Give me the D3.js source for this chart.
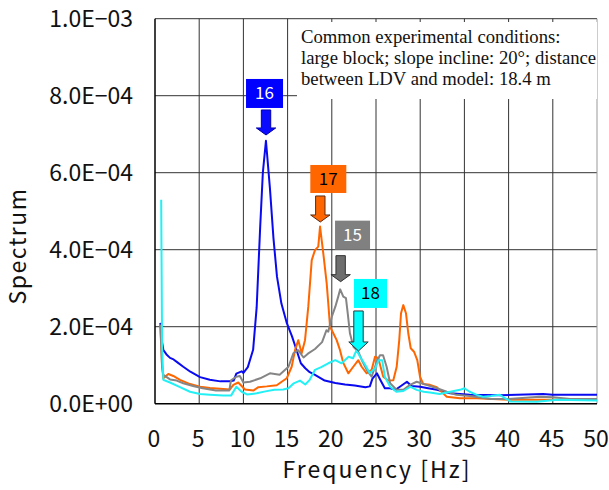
<!DOCTYPE html>
<html>
<head>
<meta charset="utf-8">
<script src="https://cdn.jsdelivr.net/npm/d3@7"></script>
<style>
body { margin: 0; background: #fff; }
svg { display: block; }
.gothic { font-family: "Noto Sans CJK JP", sans-serif; }
.serif { font-family: "Liberation Serif", "Times New Roman", serif; }
</style>
</head>
<body>
<svg id="chart" width="609" height="490"></svg>
<script>
// frequency [Hz] and spectrum (x 1e-4), one pair of arrays per test
var freq16 = [0.6, 0.7, 0.8, 0.95, 1.3, 1.7, 2.1, 2.5, 3.2, 4.0, 5.1, 6.2, 7.4, 8.5, 8.9, 9.2, 9.8, 10.0, 10.5, 11.1, 11.5, 11.9, 12.2, 12.55, 13.0, 13.4, 13.8, 14.3, 14.9, 15.5, 16.0, 16.5, 17.0, 17.5, 18.1, 19.2, 20.4, 21.5, 22.6, 23.8, 24.3, 24.6, 25.1, 25.6, 26.0, 26.6, 27.2, 27.7, 28.5, 29.0, 30.0, 30.9, 31.9, 33.4, 35.6, 39.0, 43.9, 45.0, 50.0];
var spec16 = [2.1, 1.9, 1.6, 1.39, 1.28, 1.19, 1.15, 1.08, 0.96, 0.83, 0.69, 0.62, 0.58, 0.58, 0.6, 0.78, 0.84, 0.80, 0.95, 1.4, 2.5, 4.6, 6.0, 6.83, 5.6, 4.3, 3.3, 2.6, 2.1, 1.75, 1.4, 1.05, 0.92, 0.82, 0.75, 0.6, 0.54, 0.5, 0.47, 0.43, 0.45, 0.65, 0.79, 0.57, 0.40, 0.40, 0.36, 0.44, 0.57, 0.46, 0.44, 0.40, 0.36, 0.27, 0.23, 0.22, 0.25, 0.23, 0.23];

var freq17 = [0.6, 0.7, 0.8, 0.94, 1.5, 2.07, 2.83, 3.96, 5.09, 6.22, 7.35, 8.48, 8.86, 9.42, 10.18, 11.12, 11.69, 12.64, 13.77, 14.9, 15.46, 15.84, 16.21, 16.59, 16.97, 17.34, 17.73, 18.1, 18.47, 18.67, 19.04, 19.42, 19.6, 19.8, 20.17, 20.55, 20.93, 21.3, 21.87, 22.43, 23.0, 23.38, 23.95, 24.51, 24.89, 25.26, 25.82, 26.39, 26.96, 27.34, 27.63, 27.83, 28.09, 28.39, 28.65, 28.93, 29.3, 29.67, 29.98, 30.35, 31.1, 31.87, 33.0, 34.5, 36.4, 40, 45, 50];
var spec17 = [2.05, 1.6, 1.0, 0.66, 0.77, 0.72, 0.62, 0.51, 0.44, 0.41, 0.39, 0.37, 0.49, 0.55, 0.37, 0.34, 0.43, 0.45, 0.48, 0.66, 0.96, 1.39, 1.65, 1.31, 1.65, 2.52, 3.73, 3.99, 4.08, 4.6, 3.9, 3.13, 2.61, 2.0, 1.83, 1.65, 1.39, 1.06, 0.79, 0.96, 1.13, 0.96, 0.79, 0.88, 1.22, 1.18, 0.70, 0.60, 0.61, 0.96, 1.65, 2.35, 2.56, 2.35, 1.83, 1.44, 1.35, 1.13, 0.70, 0.51, 0.49, 0.43, 0.18, 0.14, 0.14, 0.1, 0.1, 0.1];

var freq15 = [0.6, 0.7, 0.8, 0.94, 1.7, 2.45, 3.2, 4.3, 5.4, 6.9, 8.4, 8.6, 9.2, 9.6, 10.0, 10.75, 11.9, 13.0, 14.1, 15.1, 15.65, 16.2, 16.8, 17.3, 18.1, 18.9, 19.4, 19.6, 20.0, 20.4, 20.75, 20.95, 21.3, 21.6, 21.8, 22.05, 22.45, 23.0, 23.4, 23.95, 24.5, 25.1, 25.45, 25.8, 26.2, 26.6, 27.35, 28.1, 28.85, 29.6, 30.7, 31.9, 33.0, 34.1, 35.6, 38.0, 40.0, 43.5, 45.0, 47.0, 50.0];
var spec15 = [2.05, 1.5, 0.95, 0.75, 0.63, 0.60, 0.53, 0.46, 0.40, 0.34, 0.34, 0.61, 0.70, 0.72, 0.55, 0.57, 0.66, 0.79, 0.75, 0.96, 1.31, 1.39, 1.2, 1.3, 1.42, 1.6, 1.91, 1.87, 2.26, 2.52, 2.8, 2.97, 2.78, 2.74, 2.35, 1.83, 1.48, 1.35, 1.13, 0.88, 0.70, 1.1, 1.26, 1.26, 0.96, 0.53, 0.36, 0.36, 0.49, 0.57, 0.49, 0.40, 0.31, 0.23, 0.20, 0.12, 0.12, 0.18, 0.17, 0.12, 0.12];

var freq18 = [0.7, 0.8, 0.94, 1.7, 2.83, 3.96, 5.09, 6.22, 7.7, 8.6, 9.2, 9.8, 10.4, 11.5, 12.5, 13.5, 14.5, 15.1, 15.7, 16.4, 17.0, 17.5, 18.1, 18.8, 19.6, 20.4, 21.1, 21.9, 22.4, 22.8, 23.2, 23.8, 24.3, 24.9, 25.3, 25.7, 26.0, 26.6, 27.3, 28.1, 28.9, 29.6, 30.4, 31.1, 32.2, 33.4, 34.5, 35.0, 35.6, 36.4, 37.1, 38.0, 39.0, 40.2, 43.2, 45.5, 50.0];
var spec18 = [5.3, 1.5, 0.62, 0.55, 0.43, 0.31, 0.25, 0.23, 0.21, 0.21, 0.44, 0.31, 0.24, 0.27, 0.32, 0.36, 0.37, 0.40, 0.53, 0.60, 0.50, 0.62, 0.88, 0.95, 1.05, 1.13, 1.05, 1.22, 1.18, 1.39, 1.22, 1.0, 0.79, 0.92, 1.13, 1.13, 0.70, 0.44, 0.31, 0.33, 0.44, 0.36, 0.31, 0.29, 0.25, 0.31, 0.36, 0.40, 0.31, 0.23, 0.18, 0.20, 0.23, 0.06, 0.05, 0.1, 0.08];

var xTicks = [0, 5, 10, 15, 20, 25, 30, 35, 40, 45, 50];
var yTicks = [0, 2e-4, 4e-4, 6e-4, 8e-4, 1e-3];

// callouts: label, arrow frequency, arrow tip value
var calloutLabels = ["16", "17", "15", "18"];
var calloutFreq = [12.56, 18.7, 21.0, 23.02];
var calloutTip = [6.98e-4, 4.72e-4, 3.17e-4, 1.37e-4];

var noteLines = [
	"Common experimental conditions:",
	"large block; slope incline: 20\u00b0; distance",
	"between LDV and model: 18.4 m"
];

var svg = d3.select("#chart");

var x = d3.scaleLinear().domain([0, 50]).range([155, 597]);
var y = d3.scaleLinear().domain([0, 1e-3]).range([403.7, 18.7]);

// grid
svg.append("g").selectAll("line")
	.data(yTicks.slice(1))
	.enter().append("line")
	.attr("x1", x(0)).attr("x2", x(50))
	.attr("y1", function(d) { return y(d); })
	.attr("y2", function(d) { return y(d); })
	.attr("stroke", "#333").attr("stroke-width", 1);

svg.append("g").selectAll("line")
	.data(xTicks.slice(1))
	.enter().append("line")
	.attr("x1", function(d) { return x(d); })
	.attr("x2", function(d) { return x(d); })
	.attr("y1", y(1e-3)).attr("y2", y(0))
	.attr("stroke", function(d) { return d == 50 ? "#999" : "#333"; })
	.attr("stroke-width", 1);

// axis lines
svg.append("line")
	.attr("x1", x(0)).attr("x2", x(0)).attr("y1", y(1e-3)).attr("y2", y(0))
	.attr("stroke", "#000").attr("stroke-width", 1.5);
svg.append("line")
	.attr("x1", x(0)).attr("x2", x(50)).attr("y1", y(0)).attr("y2", y(0))
	.attr("stroke", "#000").attr("stroke-width", 1.5);

function sciLabel(v) {
	if (v == 0) return "0.0E+00";
	var e = Math.floor(Math.log10(v) + 1e-9);
	var m = v / Math.pow(10, e);
	var ex = Math.abs(e);
	return m.toFixed(1) + "E" + (e < 0 ? "\u2212" : "+") + (ex < 10 ? "0" : "") + ex;
}

// y tick labels
svg.append("g").attr("class", "gothic").selectAll("text")
	.data(yTicks)
	.enter().append("text")
	.attr("x", 133)
	.attr("y", function(d) { return y(d) + 8; })
	.attr("text-anchor", "end")
	.attr("font-size", 23)
	.attr("fill", "#111")
	.text(sciLabel);

// x tick labels
svg.append("g").attr("class", "gothic").selectAll("text")
	.data(xTicks)
	.enter().append("text")
	.attr("x", function(d) { return x(d) - 1; })
	.attr("y", 447)
	.attr("text-anchor", "middle")
	.attr("font-size", 23)
	.attr("fill", "#111")
	.text(function(d) { return d; });

svg.append("text").attr("class", "gothic")
	.attr("x", 377).attr("y", 478)
	.attr("text-anchor", "middle")
	.attr("font-size", 23)
	.attr("letter-spacing", 2)
	.attr("fill", "#111")
	.text("Frequency [Hz]");

svg.append("text").attr("class", "gothic")
	.attr("transform", "translate(26,246) rotate(-90)")
	.attr("text-anchor", "middle")
	.attr("font-size", 23)
	.attr("letter-spacing", 1.5)
	.attr("fill", "#111")
	.text("Spectrum");

// note box
svg.append("rect")
	.attr("x", 297).attr("y", 22).attr("width", 300).attr("height", 77)
	.attr("fill", "#fff");
svg.append("g").attr("class", "serif").selectAll("text")
	.data(noteLines)
	.enter().append("text")
	.attr("x", 301)
	.attr("y", function(d, i) { return 43 + i * 21; })
	.attr("font-size", 18.7)
	.attr("fill", "#111")
	.text(function(d) { return d; });

// series
var series = [
	{ f: freq16, s: spec16, color: "#0a0af0" },
	{ f: freq17, s: spec17, color: "#ff6600" },
	{ f: freq15, s: spec15, color: "#858585" },
	{ f: freq18, s: spec18, color: "#22f0f5" }
];

var line = d3.line()
	.x(function(d) { return x(d[0]); })
	.y(function(d) { return y(d[1] * 1e-4); });

svg.append("g").selectAll("path")
	.data(series)
	.enter().append("path")
	.attr("d", function(d) { return line(d3.zip(d.f, d.s)); })
	.attr("fill", "none")
	.attr("stroke", function(d) { return d.color; })
	.attr("stroke-width", 2)
	.attr("stroke-linejoin", "round");

// callouts
var calloutStyle = [
	{ box: "#0000ff", text: "#fff", arrow: "#0a0aff", edge: "#0000aa", bw: 37, bh: 29, dx: -20, shaft: 18, head: 7, gap: 2 },
	{ box: "#ff6600", text: "#000", arrow: "#ff6600", edge: "#5a2a10", bw: 36, bh: 28, dx: -10, shaft: 19, head: 7, gap: 3 },
	{ box: "#808080", text: "#fff", arrow: "#6e6e6e", edge: "#333", bw: 35, bh: 29, dx: -5.6, shaft: 19, head: 7, gap: 6 },
	{ box: "#00ffff", text: "#000", arrow: "#00ffff", edge: "#333", bw: 33, bh: 29, dx: -4.5, shaft: 31, head: 9, gap: 3 }
];

calloutLabels.forEach(function(lab, i) {
	var st = calloutStyle[i];
	var cx = x(calloutFreq[i]);
	var tip = y(calloutTip[i]);
	var hs = tip - st.head;
	var top = hs - st.shaft;
	var sw = 4.7, hw = 9.7;
	var p = "M" + (cx - sw) + "," + top + "L" + (cx + sw) + "," + top +
		"L" + (cx + sw) + "," + hs + "L" + (cx + hw) + "," + hs +
		"L" + cx + "," + tip + "L" + (cx - hw) + "," + hs +
		"L" + (cx - sw) + "," + hs + "Z";
	svg.append("path").attr("d", p)
		.attr("fill", st.arrow).attr("stroke", st.edge).attr("stroke-width", 1);

	var bx = cx + st.dx, by = top - st.gap - st.bh;
	svg.append("rect")
		.attr("x", bx).attr("y", by).attr("width", st.bw).attr("height", st.bh)
		.attr("fill", st.box);
	svg.append("text").attr("class", "gothic")
		.attr("x", bx + st.bw / 2).attr("y", by + st.bh / 2 + 6)
		.attr("text-anchor", "middle")
		.attr("font-size", 17)
		.attr("fill", st.text)
		.text(lab);
});
</script>
</body>
</html>
